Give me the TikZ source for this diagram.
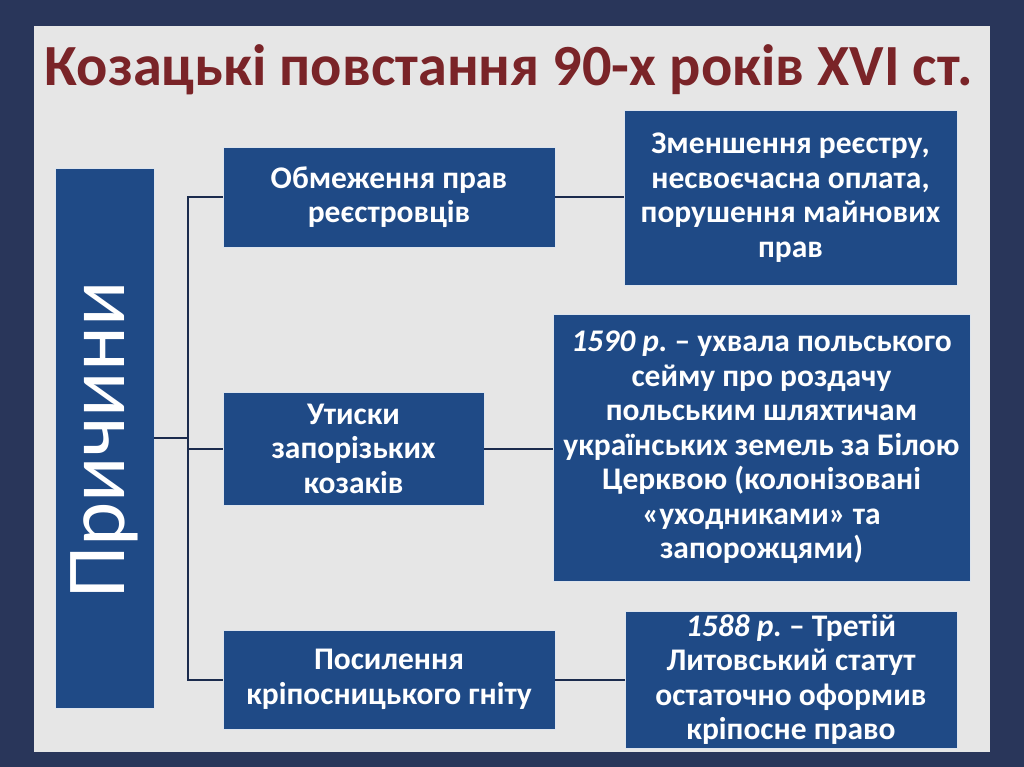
\documentclass[tikz,border=0pt]{standalone}
\usepackage{fontspec}
\setmainfont{Carlito}
\frenchspacing
\definecolor{frame}{HTML}{29365A}
\definecolor{slide}{HTML}{E6E6E6}
\definecolor{boxblue}{HTML}{1F4A86}
\definecolor{titlered}{HTML}{7A2428}
\definecolor{linec}{HTML}{1B2B4D}
\tikzset{
  box/.style={draw=white!85!boxblue, line width=0.8pt, fill=boxblue, text=white,
    align=center, inner sep=0pt, font=\bfseries\fontsize{31.5}{34.5}\selectfont},
  conn/.style={draw=linec, line width=2pt}
}
\begin{document}
\begin{tikzpicture}[x=1pt,y=-1pt]
\useasboundingbox (0,0) rectangle (1024,767);
\fill[frame] (0,0) rectangle (1024,767);
\fill[slide] (34,26) rectangle (990,752);
\node[anchor=base, text=titlered, font=\bfseries\fontsize{58.3}{62}\selectfont] (title) at (509,86) {Козацькі повстання 90-х років XVI ст.};
% left box
\node[box, minimum width=99pt, minimum height=540pt] (L) at (104.5,438) {};
\node[rotate=90, text=white, font=\fontsize{84}{90}\selectfont] (Ltxt) at (104,440) {Причини};
% middle boxes
\node[box, minimum width=332pt, minimum height=100pt] (B1) at (389,197) {Обмеження прав\\реєстровців};
\node[box, minimum width=261pt, minimum height=113pt] (B2) at (353.5,448.5) {Утиски\\запорізьких\\козаків};
\node[box, minimum width=332pt, minimum height=99pt] (B3) at (389,679.5) {Посилення\\кріпосницького гніту};
% right boxes
\node[box, minimum width=333pt, minimum height=175pt] (R1) at (790.5,197.5) {Зменшення реєстру,\\несвоєчасна оплата,\\порушення майнових\\прав};
\node[box, minimum width=417pt, minimum height=267pt] (R2) at (761.5,447.5) {\textit{1590 р.} – ухвала польського\\сейму про роздачу\\польським шляхтичам\\українських земель за Білою\\Церквою (колонізовані\\«уходниками» та\\запорожцями)};
\node[box, minimum width=332pt, minimum height=137pt] (R3) at (791,679.5) {\textit{1588 р.} – Третій\\Литовський статут\\остаточно оформив\\кріпосне право};
% connectors
\coordinate (spine) at (188,438);
\draw[conn] (L.east) -- (spine);
\draw[conn] (B1.west) -- (B1.west -| spine) -- (B3.west -| spine) -- (B3.west);
\draw[conn] (B2.west) -- (B2.west -| spine);
\draw[conn] (B1.east) -- (B1.east -| R1.west);
\draw[conn] (B2.east) -- (B2.east -| R2.west);
\draw[conn] (B3.east) -- (B3.east -| R3.west);
\end{tikzpicture}
\end{document}
